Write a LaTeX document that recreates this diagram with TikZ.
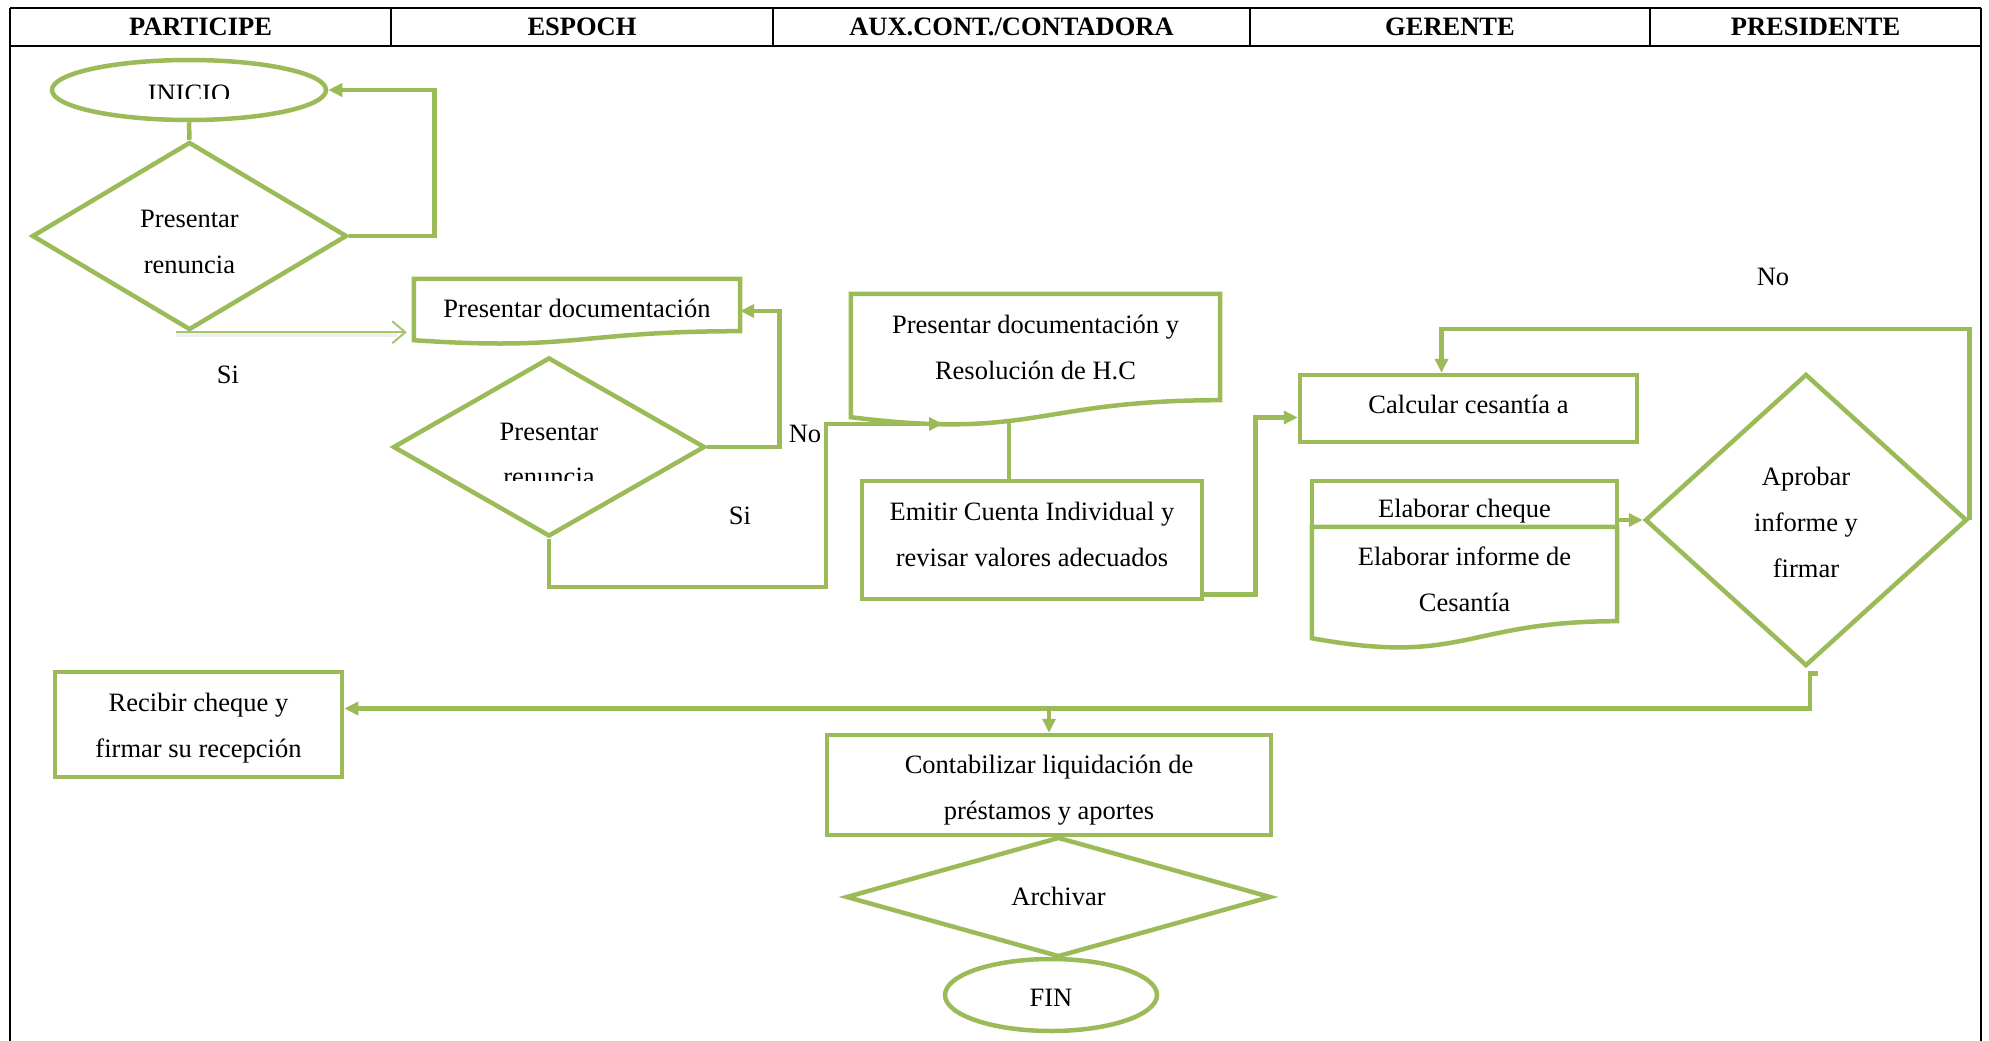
\documentclass[tikz,border=0pt]{standalone}
\usepackage{fontspec}
\setmainfont{Liberation Serif}
\usetikzlibrary{shapes.geometric,arrows.meta,calc}
\definecolor{flowgreen}{HTML}{9BBB59}
\definecolor{thingreen}{HTML}{A9C46F}
\newcommand\flowfont{\fontsize{26.5}{46}\selectfont}
\newcommand\headfont{\fontsize{26.5}{30}\selectfont\bfseries}
% document symbol: flat top, wavy bottom that dips on the left
\newcommand\wavedoc[3]{%
  \draw[shapeline] (#1.north west) -- (#1.north east) -- (#1.south east)
    .. controls (#1.south) and ($(#1.south)+(0,#3)$) .. ($(#1.south west)+(0,#2)$) -- cycle;}

\begin{document}
\begin{tikzpicture}[x=1pt,y=-1pt,
  shapeline/.style={draw=flowgreen, line width=4.5pt},
  procbox/.style={shapeline, rectangle, inner sep=0pt},
  decision/.style={shapeline, diamond, inner sep=0pt},
  terminal/.style={shapeline, ellipse, inner sep=0pt},
  docbox/.style={rectangle, inner sep=0pt},
  flowtext/.style={inner sep=0pt, align=center, font=\flowfont},
  connector/.style={draw=flowgreen, line width=4.5pt},
  arrowlink/.style={connector, -{Triangle[length=14pt,width=13pt]}},
  thinarrow/.style={draw=thingreen, line width=2pt, -{Straight Barb[length=13pt,width=22pt,line width=2pt]}},
  tableline/.style={draw=black, line width=1.6pt},
  headtext/.style={inner sep=0pt, font=\headfont}
]
\useasboundingbox (0,0) rectangle (1989,1041);

% ---- swimlane header ----
\draw[tableline] (10,8) -- (1981,8);
\draw[tableline] (10,46) -- (1981,46);
\draw[tableline] (10,8) -- (10,1041);
\draw[tableline] (1981,8) -- (1981,1041);
\foreach \xd in {391,773,1250,1650} \draw[tableline] (\xd,8) -- (\xd,46);
\node[headtext] (hPart) at (200.5,27) {PARTICIPE};
\node[headtext] (hEsp)  at (582,27)   {ESPOCH};
\node[headtext] (hAux)  at (1011.5,27){AUX.CONT./CONTADORA};
\node[headtext] (hGer)  at (1450,27)  {GERENTE};
\node[headtext] (hPres) at (1815.5,27){PRESIDENTE};

% ---- shapes and their texts ----
\node[terminal, minimum width=274pt, minimum height=60pt] (start) at (189,90) {};
\begin{scope}
  \clip (130,60) rectangle (250,98);
  \node[flowtext, anchor=base] (startT) at (189,102.5) {INICIO};
\end{scope}

\node[decision, minimum width=315pt, minimum height=188pt] (d1) at (189.5,236) {};
\node[flowtext] (d1T) at ([yshift=-6pt]d1.center) {Presentar\\renuncia};

\node[docbox, minimum width=326pt, minimum height=52pt] (docA) at (577,305) {};
\wavedoc{docA}{9}{20}
\node[flowtext] (docAT) at ([yshift=-3pt]docA.center) {Presentar documentación};

\node[decision, minimum width=312pt, minimum height=179pt] (d2) at (549,447) {};
\node[flowtext, anchor=base] (d2T) at (549,440) {Presentar};
\begin{scope}
  \clip (470,455) rectangle (630,480);
  \node[flowtext, anchor=base] (d2U) at (549,485) {renuncia};
\end{scope}

\node[docbox, minimum width=369pt, minimum height=106pt] (docB) at (1035.5,347) {};
\wavedoc{docB}{17}{40}
\node[flowtext] (docBT) at (docB.center) {Presentar documentación y\\Resolución de H.C};

\node[procbox, minimum width=340pt, minimum height=118pt] (emit) at (1032,540) {};
\node[flowtext] (emitT) at ([yshift=6pt]emit.center) {Emitir Cuenta Individual y\\revisar valores adecuados};

\node[procbox, minimum width=337pt, minimum height=67pt] (calc) at (1468.5,408.5) {};
\node[flowtext] (calcT) at ([yshift=4pt]calc.center) {Calcular cesantía a};

\node[procbox, minimum width=305pt, minimum height=46pt] (chq) at (1464.5,504) {};
\node[flowtext] (chqT) at ([yshift=-7pt]chq.center) {Elaborar cheque};
\node[docbox, minimum width=305pt, minimum height=94pt] (docC) at (1464.5,574) {};
\wavedoc{docC}{17}{45}
\node[flowtext] (docCT) at ([yshift=-5pt]docC.center) {Elaborar informe de\\Cesantía};

\node[decision, minimum width=322pt, minimum height=292pt] (d3) at (1806,520) {};
\node[flowtext] (d3T) at ([yshift=-2pt]d3.center) {Aprobar\\informe y\\firmar};

\node[procbox, minimum width=287pt, minimum height=105pt] (recibir) at (198.5,724.5) {};
\node[flowtext] (recibirT) at ([yshift=-4pt]recibir.center) {Recibir cheque y\\firmar su recepción};

\node[procbox, minimum width=444pt, minimum height=100pt] (contab) at (1049,785) {};
\node[flowtext] (contabT) at ([yshift=-5pt]contab.center) {Contabilizar liquidación de\\préstamos y aportes};

\node[decision, minimum width=425pt, minimum height=120pt] (arch) at (1058.5,897) {};
\node[flowtext] (archT) at ([yshift=1pt]arch.center) {Archivar};

\node[terminal, minimum width=212pt, minimum height=72pt] (fin) at (1051,995) {};
\node[flowtext] (finT) at ([yshift=-3pt]fin.center) {FIN};

% ---- branch labels ----
\node[flowtext] (siA) at (228,375) {Si};
\node[flowtext] (noA) at (805,434) {No};
\node[flowtext] (siB) at (740,516) {Si};
\node[flowtext] (noB) at (1773,277) {No};

% ---- connectors ----
\draw[connector] (start.south) -- (d1.north);
\draw[arrowlink] (d1.east) -- ++(85,0) |- (start.east);

% soft shadow under the thin "Si" arrow
\draw[black!6, line width=4pt, line cap=round] ([xshift=-12pt,yshift=-3pt]d1.south) -- ([xshift=-18pt,yshift=-3pt]d1.south -| docA.west);
\draw[thinarrow] ([xshift=-14pt]d1.south) -- ([xshift=-7pt]d1.south -| docA.west);

\draw[arrowlink] (d2.east) -- ++(72,0) |- ([yshift=-6pt]docA.east);

\coordinate (docBin) at (943,424);
\draw[arrowlink] (d2.south) -- ++(0,48) -| (826,424) -- (docBin);

\draw[connector] ([xshift=-23pt]emit.north) -- ++(0,-56);

\draw[arrowlink] ([yshift=7pt]emit.south east) -- ++(51,0) |- ([yshift=-9pt]calc.west);

\draw[arrowlink] ([yshift=-16pt]chq.east) -- (d3.west);

\draw[arrowlink] (d3.east) -- (d3.east |- 0,329) -| ([xshift=-27pt]calc.north);

\draw[arrowlink] ($(d3.south)+(12,5)$) -- ++(-8,0) |- ([yshift=16pt]recibir.east);

\draw[arrowlink] (contab.north |- 0,708.5) -- (contab.north);

\end{tikzpicture}
\end{document}
